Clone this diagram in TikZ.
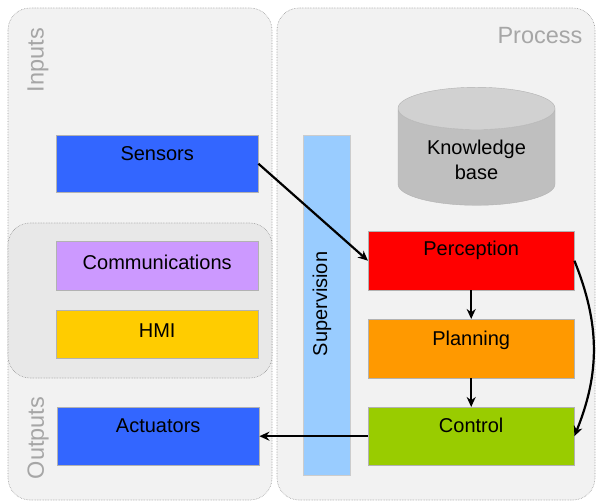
\documentclass[tikz,border=0pt]{standalone}
\usepackage{fontspec}
\setmainfont{Liberation Sans}
\usetikzlibrary{shapes.geometric,arrows.meta}
\definecolor{sensblue}{HTML}{3366FF}
\definecolor{lilac}{HTML}{CC99FF}
\definecolor{gold}{HTML}{FFCC00}
\definecolor{skyblue}{HTML}{99CCFF}
\definecolor{percred}{HTML}{FF0000}
\definecolor{planorange}{HTML}{FF9900}
\definecolor{ctrlgreen}{HTML}{99CC00}

\begin{document}
\begin{tikzpicture}[x=1pt,y=-1pt,
  panel/.style={draw=black!40,densely dotted,line width=0.6pt,fill=black!5,rounded corners=22pt},
  title/.style={text=black!35,font=\fontsize{23.5}{26}\selectfont},
  blk/.style={draw=black!30,anchor=north west,minimum width=202pt,inner ysep=5pt,
    text height=20pt,font=\fontsize{20}{24}\selectfont},
  arr/.style={line width=2.2pt,-{Stealth[length=10pt,width=9pt]}}]
  \useasboundingbox (0,0) rectangle (598,503);
  % panels
  \draw[panel] (8,8) rectangle (272,500);
  \draw[panel] (277,8) rectangle (595,500);
  \draw[panel,fill=black!9] (8,223) rectangle (272,378);
  \node[title,rotate=90] (inputs) at (38,60) {Inputs};
  \node[title,rotate=90] (outputs) at (38,438) {Outputs};
  \node[title] (process) at (540,36) {Process};
  % inputs and outputs
  \node[blk,fill=sensblue,text depth=27pt] (sensors) at (56,135) {Sensors};
  \node[blk,fill=lilac,text height=23pt,text depth=16pt] (comm) at (56,241) {Communications};
  \node[blk,fill=gold,text height=22pt,text depth=16pt] (hmi) at (56,310) {HMI};
  \node[blk,fill=sensblue,text depth=28pt] (act) at (57,407) {Actuators};
  % process
  \node[draw=black!20,fill=skyblue,minimum width=47pt,minimum height=340pt] (sup) at (326.5,305) {};
  \node[rotate=90,font=\fontsize{20}{24}\selectfont] (suptext) at (322,304) {Supervision};
  \node[cylinder,shape border rotate=90,aspect=0.4,draw=black!30,
    cylinder uses custom fill,cylinder body fill=black!25,cylinder end fill=black!18,
    minimum width=157pt,minimum height=118pt,align=center,
    font=\fontsize{20}{25}\selectfont] (kb) at (476.5,160) {Knowledge\\base};
  \node[blk,fill=percred,minimum width=206pt,text height=19pt,text depth=30pt] (perc) at (368,231) {Perception};
  \node[blk,fill=planorange,minimum width=206pt,text height=21pt,text depth=28pt] (plan) at (368,319) {Planning};
  \node[blk,fill=ctrlgreen,minimum width=206pt,text depth=28pt] (ctrl) at (368,407) {Control};
  % connectors
  \draw[arr] (sensors.east) -- (perc.west);
  \draw[arr] (perc.south) -- (plan.north);
  \draw[arr] (plan.south) -- (ctrl.north);
  \draw[arr] (ctrl.west) -- (act.east);
  \draw[arr] (perc.east) to[bend left=22] (ctrl.east);
\end{tikzpicture}
\end{document}
